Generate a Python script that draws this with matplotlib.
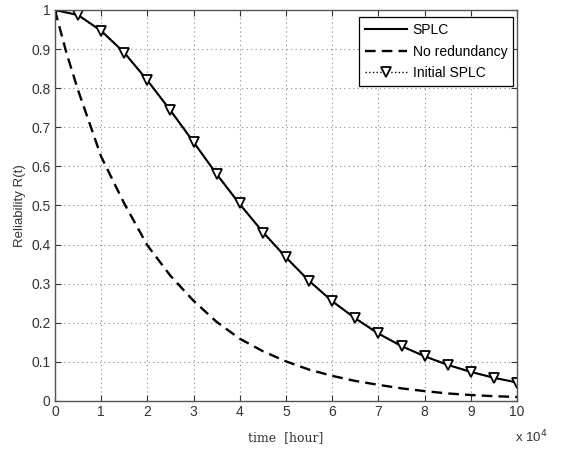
import numpy as np
import matplotlib.pyplot as plt
import matplotlib as mpl

mpl.rcParams.update({
    "font.family": "sans-serif",
    "font.sans-serif": ["Liberation Sans", "DejaVu Sans"],
    "font.size": 10,
})

# time in units of 1e4 hours
T = [0, 0.5, 1, 1.5, 2, 2.5, 3, 3.5, 4, 4.5, 5, 5.5, 6, 6.5, 7, 7.5, 8, 8.5, 9, 9.5, 10]
SPLC = [1.0, 0.987, 0.947, 0.891, 0.820, 0.743, 0.662, 0.580, 0.503, 0.432, 0.367,
        0.307, 0.255, 0.211, 0.172, 0.140, 0.114, 0.092, 0.074, 0.059, 0.047]
SPLC_INIT = [1.0, 0.987, 0.945, 0.891, 0.820, 0.743, 0.662, 0.580, 0.505, 0.430, 0.368,
             0.306, 0.255, 0.212, 0.173, 0.141, 0.115, 0.092, 0.075, 0.059, 0.047]
T_NR = [0, 0.25, 0.5, 0.75, 1, 1.5, 2, 2.5, 3, 3.5, 4, 4.5, 5, 5.5, 6, 6.5, 7, 7.5, 8, 8.5, 9, 9.5, 10]
NO_RED = [1.0, 0.89, 0.795, 0.71, 0.625, 0.505, 0.398, 0.32, 0.256, 0.202, 0.159, 0.127,
          0.101, 0.080, 0.064, 0.051, 0.041, 0.032, 0.025, 0.019, 0.015, 0.012, 0.010]

fig = plt.figure(figsize=(5.72, 4.54), dpi=100)
ax = fig.add_axes([0.096, 0.117, 0.808, 0.861])

ax.plot(T, SPLC, "-", color="black", linewidth=1.5, label="SPLC")
ax.plot(T_NR, NO_RED, "--", color="black", linewidth=1.7, dashes=(4.5, 2.6), label="No redundancy")
ax.plot(T, SPLC_INIT, ":", color="black", linewidth=1.0, marker="v", markersize=7.5,
        markerfacecolor="white", markeredgecolor="black", markeredgewidth=1.3,
        label="Initial SPLC")

ax.set_xlim(0, 10)
ax.set_ylim(0, 1)
ax.set_xticks(np.arange(0, 11, 1))
ax.set_yticks(np.arange(0, 1.01, 0.1))
ax.set_xticklabels([str(i) for i in range(11)])
ax.set_yticklabels(["0"] + ["%.1f" % v for v in np.arange(0.1, 0.95, 0.1)] + ["1"])
ax.tick_params(direction="in", top=True, right=True, length=4, labelsize=10,
               colors="#333333", labelcolor="#333333", pad=3)
ax.grid(True, linestyle=(0, (1, 3)), color="#888888", linewidth=0.8)
for s in ax.spines.values():
    s.set_color("#555555")
    s.set_linewidth(1.0)

ax.set_xlabel("time  [hour]", fontfamily="DejaVu Serif", fontsize=9, color="#333333", labelpad=9)
ax.set_ylabel("Reliability R(t)", fontsize=9.5, color="#333333", labelpad=4)
fig.text(0.958, 0.026, r"x 10$^4$", ha="right", fontsize=9.5, color="#333333")

leg = ax.legend(loc="upper right", bbox_to_anchor=(0.992, 0.983), fancybox=False,
                framealpha=1, edgecolor="black", fontsize=10, handlelength=3.0,
                borderaxespad=0.0, labelspacing=0.55, handletextpad=0.4, borderpad=0.45)
leg.get_frame().set_linewidth(0.9)

fig.savefig("out.png", dpi=100)
